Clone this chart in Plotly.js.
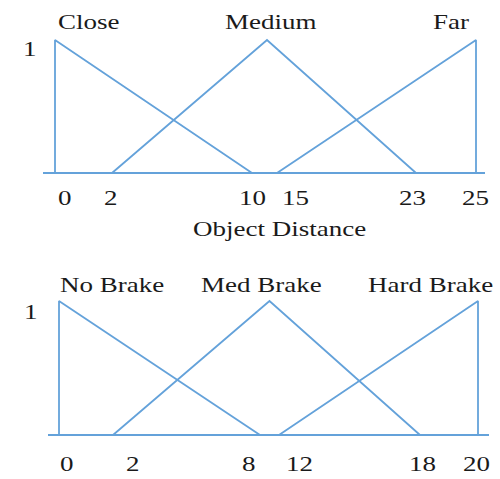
<!DOCTYPE html>
<html>
<head>
<meta charset="utf-8">
<script src="https://cdn.plot.ly/plotly-3.0.1.min.js"></script>
<style>
  html, body { margin: 0; padding: 0; background: #fff; }
  #chart { width: 500px; height: 479px; }
  .annotation-text { transform-box: fill-box; transform-origin: center; transform: scaleX(1.35); }
</style>
</head>
<body>
<div id="chart"></div>
<script>
// ---- Data ----
// Object distance membership functions (vertices, in distance units)
const distTicks   = [0, 2, 10, 15, 23, 25];
const distNames   = ['Close', 'Medium', 'Far'];
const closeX  = [0, 0, 10];   const closeY  = [0, 1, 0];
const mediumX = [2, 13, 23];  const mediumY = [0, 1, 0];
const farX    = [15, 25, 25]; const farY    = [0, 1, 0];
const distPeaks = [0, 13, 25];

// Brake membership functions
const brakeTicks = [0, 2, 8, 12, 18, 20];
const brakeNames = ['No Brake', 'Med Brake', 'Hard Brake'];
const noBrakeX   = [0, 0, 8];    const noBrakeY   = [0, 1, 0];
const medBrakeX  = [2, 10, 18];  const medBrakeY  = [0, 1, 0];
const hardBrakeX = [12, 20, 20]; const hardBrakeY = [0, 1, 0];
const brakePeaks = [0, 10, 20];

// ---- Layout: the drawing's horizontal scale is not linear, so map values to drawn positions ----
const distWarp  = { val: [0, 2, 10, 15, 23, 25], pos: [55, 112, 252, 277, 416, 476] };
const brakeWarp = { val: [0, 2, 8, 12, 18, 20],  pos: [59, 113, 260, 279, 420, 478] };
function warp(w, v) {
  for (let i = 0; i < w.val.length - 1; i++) {
    if (v <= w.val[i + 1] || i === w.val.length - 2) {
      const t = (v - w.val[i]) / (w.val[i + 1] - w.val[i]);
      return w.pos[i] + t * (w.pos[i + 1] - w.pos[i]);
    }
  }
}
const W = 500, H = 479;
// y range so that y=1 and y=0 fall at the wanted pixel rows within each domain
function yRange(onePx, zeroPx, domTopPx, domBotPx) {
  const s = zeroPx - onePx;
  return [-(domBotPx - zeroPx) / s, 1 + (onePx - domTopPx) / s];
}
const lineColor = '#64a2da';
const font = { family: 'Liberation Serif, Times New Roman, serif', size: 20, color: '#1a1a1a' };

function tr(xs, ys, w, xa, ya) {
  return { x: xs.map(v => warp(w, v)), y: ys, xaxis: xa, yaxis: ya, type: 'scatter', mode: 'lines',
           line: { color: lineColor, width: 1.8 }, hoverinfo: 'skip', showlegend: false };
}
const data = [
  tr(closeX, closeY, distWarp, 'x', 'y'),
  tr(mediumX, mediumY, distWarp, 'x', 'y'),
  tr(farX, farY, distWarp, 'x', 'y'),
  tr(noBrakeX, noBrakeY, brakeWarp, 'x2', 'y2'),
  tr(medBrakeX, medBrakeY, brakeWarp, 'x2', 'y2'),
  tr(hardBrakeX, hardBrakeY, brakeWarp, 'x2', 'y2')
];

const distTickShift  = [9, -1.5, 0, 18, -4, -1];
const brakeTickShift = [7.5, 19.5, -11.5, 20, 2.5, -2];
const distNameShift  = [33, 4, -25];
const brakeNameShift = [53, -8, -48];

const ann = [];
distTicks.forEach((v, i) => ann.push({ xref: 'x', yref: 'y', x: warp(distWarp, v), y: 0, yshift: -25,
  xshift: distTickShift[i], text: String(v), showarrow: false, font }));
brakeTicks.forEach((v, i) => ann.push({ xref: 'x2', yref: 'y2', x: warp(brakeWarp, v), y: 0, yshift: -29,
  xshift: brakeTickShift[i], text: String(v), showarrow: false, font }));
distNames.forEach((n, i) => ann.push({ xref: 'x', yref: 'y', x: warp(distWarp, distPeaks[i]), y: 1, yshift: 18.5,
  xshift: distNameShift[i], text: n, showarrow: false, font }));
brakeNames.forEach((n, i) => ann.push({ xref: 'x2', yref: 'y2', x: warp(brakeWarp, brakePeaks[i]), y: 1, yshift: 16,
  xshift: brakeNameShift[i], text: n, showarrow: false, font }));
ann.push({ xref: 'paper', yref: 'y', x: 21 / W, y: 1, yshift: -8.5, text: '1', showarrow: false, font });
ann.push({ xref: 'paper', yref: 'y2', x: 22 / W, y: 1, yshift: -10.5, text: '1', showarrow: false, font });
ann.push({ xref: 'paper', yref: 'y', x: 279 / W, y: 0, yshift: -56, text: 'Object Distance', showarrow: false, font });

const hiddenX = { range: [0, W], visible: false, fixedrange: true };
const layout = {
  width: W, height: H,
  margin: { l: 0, r: 0, t: 0, b: 0 },
  paper_bgcolor: '#fff', plot_bgcolor: '#fff',
  xaxis:  Object.assign({ anchor: 'y' }, hiddenX),
  xaxis2: Object.assign({ anchor: 'y2' }, hiddenX),
  yaxis:  { domain: [0.5, 1], range: yRange(40, 173, 0, H / 2), visible: false, fixedrange: true },
  yaxis2: { domain: [0, 0.5], range: yRange(301, 435, H / 2, H), visible: false, fixedrange: true },
  shapes: [
    { type: 'line', xref: 'x', yref: 'y', x0: 43, x1: 485, y0: 0, y1: 0, line: { color: lineColor, width: 1.8 } },
    { type: 'line', xref: 'x2', yref: 'y2', x0: 48, x1: 489, y0: 0, y1: 0, line: { color: lineColor, width: 1.8 } }
  ],
  annotations: ann
};
Plotly.newPlot('chart', data, layout, { displayModeBar: false, staticPlot: true });
</script>
</body>
</html>
